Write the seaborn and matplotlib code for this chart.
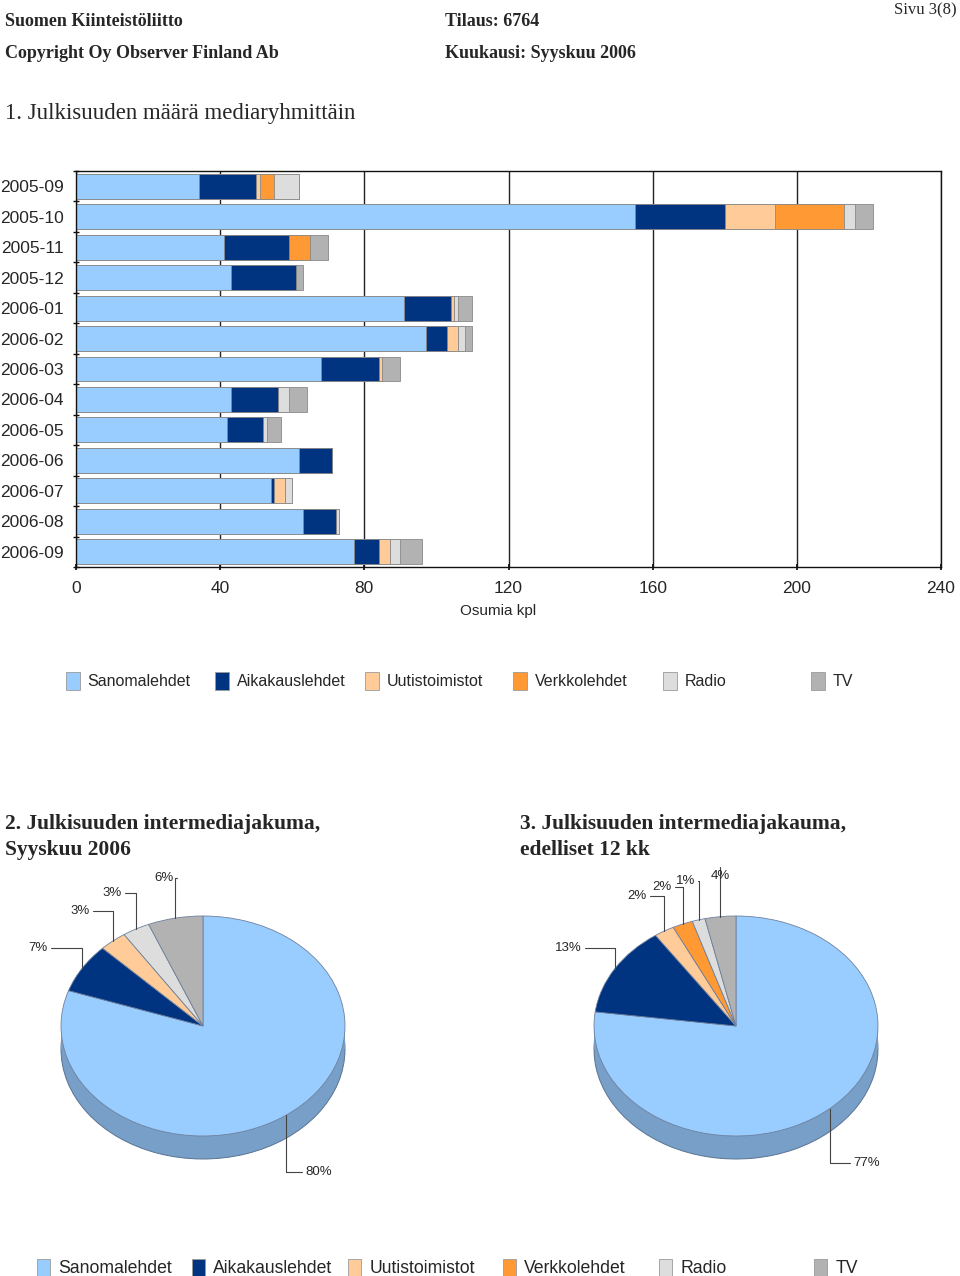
import numpy as np
import matplotlib
matplotlib.use('Agg')
import matplotlib.pyplot as plt
from matplotlib.patches import Patch
from matplotlib.colors import to_rgb
import seaborn as sns

# ---------------- data ----------------
months = ['2005-09', '2005-10', '2005-11', '2005-12', '2006-01', '2006-02', '2006-03',
          '2006-04', '2006-05', '2006-06', '2006-07', '2006-08', '2006-09']
media = ['Sanomalehdet', 'Aikakauslehdet', 'Uutistoimistot', 'Verkkolehdet', 'Radio', 'TV']
sanomalehdet = [34, 155, 41, 43, 91, 97, 68, 43, 42, 62, 54, 63, 77]
aikakauslehdet = [16, 25, 18, 18, 13, 6, 16, 13, 10, 9, 1, 9, 7]
uutistoimistot = [1, 14, 0, 0, 1, 3, 1, 0, 0, 0, 3, 0, 3]
verkkolehdet = [4, 19, 6, 0, 0, 0, 0, 0, 0, 0, 0, 0, 0]
radio = [7, 3, 0, 0, 1, 2, 0, 3, 1, 0, 2, 1, 3]
tv = [0, 5, 5, 2, 4, 2, 5, 5, 4, 0, 0, 0, 6]
x_ticks = [0, 40, 80, 120, 160, 200, 240]
colors = ['#99CCFF', '#003380', '#FFCC99', '#FF9933', '#DDDDDD', '#B2B2B2']

series = [sanomalehdet, aikakauslehdet, uutistoimistot, verkkolehdet, radio, tv]

# pie 1: latest month, pie 2: previous 12 months
pie1_vals = [s[-1] for s in series]
pie2_vals = [sum(s[1:]) for s in series]

# ---------------- figure ----------------
sns.set_theme(style='white')
plt.rcParams['font.family'] = ['Liberation Sans', 'DejaVu Sans']
SERIF = ['Liberation Serif', 'DejaVu Serif']

W, H = 960, 1276
fig = plt.figure(figsize=(W / 100, H / 100), dpi=100)
fig.patch.set_facecolor('white')


def fx(x):
    return x / W


def fy(y):
    return 1 - y / H


# header
fig.text(fx(5), fy(22), 'Suomen Kiinteistöliitto', family=SERIF, weight='bold', fontsize=13, va='center')
fig.text(fx(445), fy(22), 'Tilaus: 6764', family=SERIF, weight='bold', fontsize=13, va='center')
fig.text(fx(957), fy(10), 'Sivu 3(8)', family=SERIF, fontsize=12, va='center', ha='right')
fig.text(fx(5), fy(54), 'Copyright Oy Observer Finland Ab', family=SERIF, weight='bold', fontsize=13, va='center')
fig.text(fx(445), fy(54), 'Kuukausi: Syyskuu 2006', family=SERIF, weight='bold', fontsize=13, va='center')
fig.text(fx(5), fy(113), '1. Julkisuuden määrä mediaryhmittäin', family=SERIF, fontsize=16.5, va='center')

# ---------------- stacked bar chart ----------------
ax = fig.add_axes([fx(76), fy(567), (941 - 76) / W, (567 - 171) / H])
cum = np.zeros(len(months))
cums = []
for s in series:
    cum = cum + np.array(s)
    cums.append(cum.copy())
for i in reversed(range(len(series))):
    sns.barplot(x=cums[i], y=months, orient='h', color=colors[i], saturation=1,
                width=0.82, edgecolor='#8a8a8a', linewidth=0.6, ax=ax, zorder=2)

ax.set_xlim(0, 240)
ax.set_ylim(12.5, -0.5)
ax.set_xticks(x_ticks)
ax.set_xticklabels([str(t) for t in x_ticks])
ax.set_yticks(range(len(months)))
ax.set_yticklabels(months)
ax.set_yticks(np.arange(-0.5, 13, 1), minor=True)
ax.xaxis.grid(True, color='#222222', linewidth=1.0, zorder=0)
ax.yaxis.grid(False)
ax.set_axisbelow(True)
for sp in ax.spines.values():
    sp.set_color('#111111')
    sp.set_linewidth(1.0)
    sp.set_visible(True)
ax.tick_params(axis='x', labelsize=12.5, pad=7.5, length=5, direction='inout', color='#111111', bottom=True)
ax.tick_params(axis='y', which='major', labelsize=12.5, pad=9, length=0)
ax.tick_params(axis='y', which='minor', length=4, direction='inout', color='#111111', left=True)
ax.set_ylabel('')
ax.set_xlabel('Osumia kpl', fontsize=11)
ax.xaxis.set_label_coords((498 - 76) / 865, -(604 - 567) / 396)

# bar legend
leg1_x = [66, 215, 365, 513, 663, 811]
for name, c, x in zip(media, colors, leg1_x):
    fig.legend(handles=[Patch(facecolor=c, edgecolor='#9a9a9a', linewidth=0.6)], labels=[name],
               loc='center left', bbox_to_anchor=(fx(x), fy(681)), frameon=False,
               fontsize=11.5, handlelength=0.85, handleheight=1.3, handletextpad=0.5,
               borderpad=0, borderaxespad=0)

# ---------------- pies ----------------
fig.text(fx(5), fy(824), '2. Julkisuuden intermediajakuma,', family=SERIF, weight='bold', fontsize=15.5, va='center')
fig.text(fx(5), fy(850), 'Syyskuu 2006', family=SERIF, weight='bold', fontsize=15.5, va='center')
fig.text(fx(520), fy(824), '3. Julkisuuden intermediajakauma,', family=SERIF, weight='bold', fontsize=15.5, va='center')
fig.text(fx(520), fy(850), 'edelliset 12 kk', family=SERIF, weight='bold', fontsize=15.5, va='center')


def darken(c, f=0.78):
    r, g, b = to_rgb(c)
    return (r * f, g * f, b * f)


def draw_pie(rect, center, values, layout):
    x0, y0, x1, y1 = rect
    cx, cy = center
    rx, ry = 142.0, 110.0
    pax = fig.add_axes([fx(x0), fy(y1), (x1 - x0) / W, (y1 - y0) / H])
    names = [m for m, v in zip(media, values) if v > 0]
    vals = [v for v in values if v > 0]
    cols = [c for c, v in zip(colors, values) if v > 0]
    depth = 23.0 / ry
    side = [darken(c) for c in cols]
    pax.pie(vals, colors=side, startangle=90, counterclock=False, center=(0, -depth),
            wedgeprops=dict(edgecolor='#5a7394', linewidth=0.7))
    pax.fill_between([-1, 1], -depth, 0, color=side[0], linewidth=0)
    wedges, _ = pax.pie(vals, colors=cols, startangle=90, counterclock=False,
                        wedgeprops=dict(edgecolor='#6f819c', linewidth=0.6))
    pax.set_aspect('auto')
    pax.set_xlim((x0 - cx) / rx, (x1 - cx) / rx)
    pax.set_ylim((cy - y1) / ry, (cy - y0) / ry)
    total = sum(vals)
    for name, w, v in zip(names, wedges, vals):
        dx, dy, ha = layout[name]
        mid = np.deg2rad((w.theta1 + w.theta2) / 2)
        ex, ey = np.cos(mid), np.sin(mid)
        ty = -dy / ry
        pct = f'{round(100 * v / total)}%'
        if ha == 'center':
            pax.plot([ex, ex], [ey, ty + 9 / ry], color='#444444', lw=0.8, clip_on=False)
            pax.text(ex, ty, pct, ha='center', va='center', fontsize=9.5)
        elif ha == 'right':
            tx = dx / rx
            pax.plot([ex, ex, tx + 3 / rx], [ey, ty, ty], color='#444444', lw=0.8, clip_on=False)
            pax.text(tx, ty, pct, ha='right', va='center', fontsize=9.5)
        else:
            tx = dx / rx
            pax.plot([ex, ex, tx - 3 / rx], [ey, ty, ty], color='#444444', lw=0.8, clip_on=False)
            pax.text(tx, ty, pct, ha='left', va='center', fontsize=9.5)


layout1 = {'Sanomalehdet': (102, 146, 'left'), 'Aikakauslehdet': (-155, -78, 'right'),
           'Uutistoimistot': (-113, -115, 'right'), 'Radio': (-81, -133, 'right'),
           'TV': (-29, -148, 'right')}
layout2 = {'Sanomalehdet': (117, 137, 'left'), 'Aikakauslehdet': (-154, -78, 'right'),
           'Uutistoimistot': (-89, -130, 'right'), 'Verkkolehdet': (-64, -139, 'right'),
           'Radio': (-41, -145, 'right'), 'TV': (0, -150, 'center')}

draw_pie((0, 862, 480, 1205), (203, 1026), pie1_vals, layout1)
draw_pie((500, 862, 960, 1205), (736, 1026), pie2_vals, layout2)

leg2_x = [37, 192, 348, 503, 659, 814]
for name, c, x in zip(media, colors, leg2_x):
    fig.legend(handles=[Patch(facecolor=c, edgecolor='#9a9a9a', linewidth=0.6)], labels=[name],
               loc='center left', bbox_to_anchor=(fx(x), fy(1268)), frameon=False,
               fontsize=12.7, handlelength=0.75, handleheight=1.15, handletextpad=0.45,
               borderpad=0, borderaxespad=0)

fig.savefig('out.png', dpi=100)
